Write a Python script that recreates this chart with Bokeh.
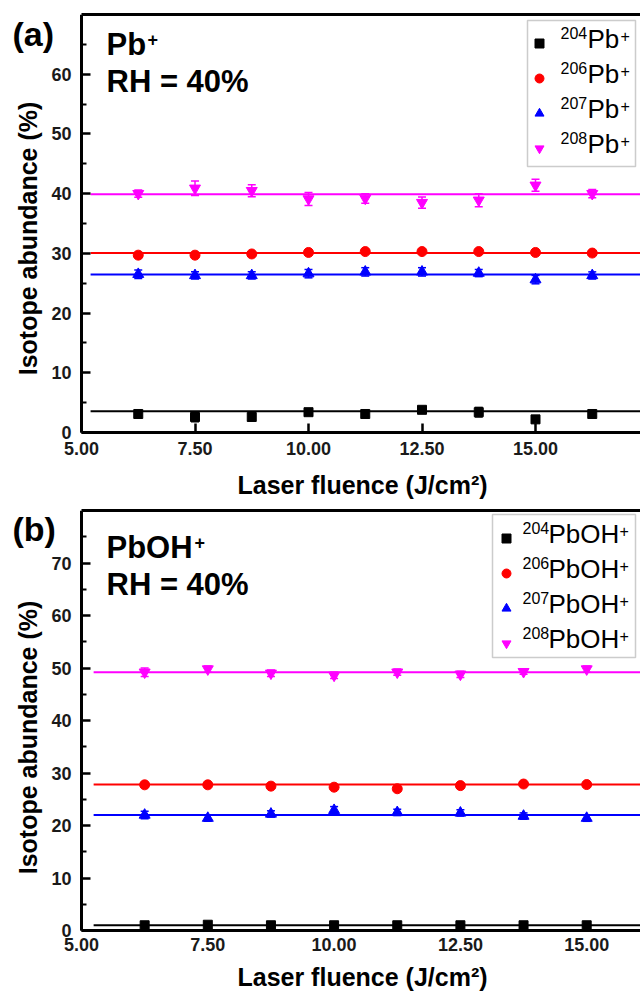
import math
from bokeh.plotting import figure
from bokeh.models import (Range1d, LinearAxis, FixedTicker, Whisker, TeeHead,
                          ColumnDataSource, Label, BoxAnnotation, PrintfTickFormatter)
from bokeh.layouts import column
from bokeh.embed import file_html
from bokeh.resources import INLINE

# ---------------- data ----------------
isotopes = ["204", "206", "207", "208"]
colors = ["#000000", "#ff0000", "#0000ff", "#ff00ff"]
markers = ["square", "circle", "triangle", "inverted_triangle"]
marker_sizes = [9, 10, 11, 11]

# (a) Pb+
x_a = [6.25, 7.5, 8.75, 10.0, 11.25, 12.5, 13.75, 15.0, 16.25]
a204 = [3.1, 2.6, 2.6, 3.4, 3.1, 3.8, 3.4, 2.2, 3.1]
a204_err = [0.3, 0.8, 0.6, 0.4, 0.4, 0.3, 0.8, 0.5, 0.4]
a206 = [29.7, 29.7, 29.9, 30.15, 30.3, 30.3, 30.3, 30.15, 30.05]
a206_err = [0.4, 0.4, 0.3, 0.4, 0.3, 0.3, 0.3, 0.3, 0.3]
a207 = [26.5, 26.3, 26.3, 26.6, 26.9, 26.9, 26.7, 25.6, 26.3]
a207_err = [0.7, 0.6, 0.6, 0.7, 0.7, 0.7, 0.6, 0.7, 0.6]
a208 = [40.0, 40.9, 40.5, 39.1, 39.2, 38.5, 38.9, 41.4, 40.0]
a208_err = [0.6, 1.2, 1.0, 1.1, 0.8, 0.95, 1.1, 1.0, 0.7]
fit_a = [3.55, 30.05, 26.47, 39.9]
fit_x_a = [5.2, 18.0]

# (b) PbOH+
x_b = [6.25, 7.5, 8.75, 10.0, 11.25, 12.5, 13.75, 15.0]
b204 = [1.0, 1.1, 1.0, 1.0, 1.0, 1.0, 1.0, 1.0]
b204_err = [0.3, 0.3, 0.3, 0.3, 0.3, 0.3, 0.3, 0.3]
b206 = [27.75, 27.75, 27.5, 27.3, 27.0, 27.6, 27.9, 27.8]
b206_err = [0.4, 0.3, 0.3, 0.4, 0.4, 0.4, 0.3, 0.3]
b207 = [22.0, 21.4, 22.2, 22.9, 22.5, 22.4, 21.8, 21.4]
b207_err = [0.7, 0.6, 0.6, 0.7, 0.6, 0.6, 0.6, 0.6]
b208 = [49.2, 49.8, 49.0, 48.6, 49.2, 48.8, 49.3, 49.8]
b208_err = [0.8, 0.6, 0.6, 0.6, 0.6, 0.6, 0.5, 0.6]
fit_b = [1.0, 27.8, 22.0, 49.2]
fit_x_b = [5.24, 17.0]

x_ticks = [5.0, 7.5, 10.0, 12.5, 15.0]
y_ticks_a = [0, 10, 20, 30, 40, 50, 60]
y_minor_a = [5, 15, 25, 35, 45, 55, 65]
y_ticks_b = [0, 10, 20, 30, 40, 50, 60, 70]
y_minor_b = [5, 15, 25, 35, 45, 55, 65, 75]

FONT = "Liberation Sans"
W = 640
PAGE_LEFT, PAGE_RIGHT = 0, W
AXIS_X = 81  # page x of the y axis (x = 5.00)
MID = 0.35   # baseline -> middle of text box, in em


def make_panel(canvas_top, height, frame_top, axis_y, px_per_x, y_end,
               y_ticks, y_minor, xs, ys, errs, fits, fit_x, letter, species,
               tp, legend_box, legend_rows, legend_sup_x, legend_main_x,
               legend_plus_x, legend_marker_x, tick_standoff):
    canvas_bottom = canvas_top + height
    px_per_y = (axis_y - frame_top) / y_end
    x_start = 5.0 - (AXIS_X - PAGE_LEFT) / px_per_x
    x_end = 5.0 + (PAGE_RIGHT - AXIS_X) / px_per_x
    y_start = -(canvas_bottom - axis_y) / px_per_y

    p = figure(width=W, height=height, output_backend="svg", toolbar_location=None,
               x_range=Range1d(x_start, x_end), y_range=Range1d(y_start, y_end),
               min_border_left=0, min_border_right=0,
               min_border_top=frame_top - canvas_top, min_border_bottom=0)
    p.outline_line_color = None
    p.xgrid.visible = False
    p.ygrid.visible = False
    p.background_fill_color = "white"
    p.border_fill_color = "white"

    def dx(px):
        return 5.0 + (px - AXIS_X) / px_per_x

    def dy(py):
        return (axis_y - py) / px_per_y

    def text(px, base, s, size, bold=False, align="left"):
        p.add_layout(Label(x=dx(px), y=dy(base - MID * size), text=s,
                           text_font=FONT, text_font_size=f"{size}px",
                           text_font_style="bold" if bold else "normal",
                           text_align=align, text_baseline="middle",
                           text_color="black"))

    # axes drawn at x = 5 and y = 0
    p.xaxis.ticker = FixedTicker(ticks=x_ticks, minor_ticks=[])
    p.xaxis.formatter = PrintfTickFormatter(format="%.2f")
    p.yaxis.ticker = FixedTicker(ticks=y_ticks, minor_ticks=y_minor)
    p.xaxis.fixed_location = 0
    p.yaxis.fixed_location = 5.0
    p.xaxis.bounds = (5.0, x_end)
    p.yaxis.bounds = (0, y_end)
    for ax in (p.xaxis[0], p.yaxis[0]):
        ax.axis_line_width = 3
        ax.axis_line_color = "black"
        ax.major_tick_in = 9
        ax.major_tick_out = 0
        ax.minor_tick_in = 5
        ax.minor_tick_out = 0
        ax.major_tick_line_width = 2.5
        ax.minor_tick_line_width = 2
        ax.major_tick_line_color = "black"
        ax.minor_tick_line_color = "black"
        ax.major_label_text_font = FONT
        ax.major_label_text_font_style = "bold"
        ax.major_label_text_font_size = "18px"
        ax.major_label_text_color = "#1a1a1a"
    p.yaxis.major_label_standoff = 10
    p.xaxis.major_label_standoff = tick_standoff

    top = LinearAxis(ticker=FixedTicker(ticks=[], minor_ticks=[]),
                     axis_line_width=3, axis_line_color="black",
                     major_label_text_font_size="0px", bounds=(5.0, x_end),
                     major_tick_line_color=None, minor_tick_line_color=None)
    p.add_layout(top, "above")

    # fit lines
    for fit, c in zip(fits, colors):
        p.line(fit_x, [fit, fit], line_color=c, line_width=2)

    # data + error bars
    for y, e, c, m, s in zip(ys, errs, colors, markers, marker_sizes):
        src = ColumnDataSource(dict(x=xs, y=y,
                                    lo=[a - b for a, b in zip(y, e)],
                                    hi=[a + b for a, b in zip(y, e)]))
        p.scatter("x", "y", source=src, marker=m, size=s, fill_color=c,
                  line_color=c)
        p.add_layout(Whisker(base="x", lower="lo", upper="hi", source=src,
                             line_color=c, line_width=1.5,
                             upper_head=TeeHead(size=8, line_color=c, line_width=1.5),
                             lower_head=TeeHead(size=8, line_color=c, line_width=1.5)))

    # legend
    bl, br, bt, bb = legend_box
    p.add_layout(BoxAnnotation(left=dx(bl), right=dx(br), top=dy(bt), bottom=dy(bb),
                               fill_alpha=0, line_color="#555555", line_width=1.5))
    for iso, c, m, base in zip(isotopes, colors, markers, legend_rows):
        p.scatter([dx(legend_marker_x)], [dy(base - 5)], marker=m, size=9,
                  fill_color=c, line_color=c)
        text(legend_sup_x, base - 10, iso, 16)
        text(legend_main_x, base, species, 26)
        text(legend_plus_x, base - 7, "+", 16)

    # panel letter and titles
    text(12, tp["letter"], letter, 34, bold=True)
    text(106, tp["species"], species, 31, bold=True)
    text(tp["plus_x"], tp["species"] - 10, "+", 18, bold=True)
    text(106, tp["rh"], "RH = 40%", 31, bold=True)

    # axis titles
    p.add_layout(Label(x=dx(36 - MID * 25), y=dy(tp["ylab_c"]),
                       text="Isotope abundance (%)",
                       angle=math.pi / 2, text_align="center", text_baseline="middle",
                       text_font=FONT, text_font_size="25px", text_font_style="bold",
                       text_color="black"))
    text(362, tp["xlab_base"], "Laser fluence (J/cm\u00b2)", 25, bold=True, align="center")
    return p


pa = make_panel(canvas_top=0, height=504, frame_top=14, axis_y=432,
                px_per_x=113.5 / 2.5, y_end=70, y_ticks=y_ticks_a, y_minor=y_minor_a,
                xs=x_a, ys=[a204, a206, a207, a208],
                errs=[a204_err, a206_err, a207_err, a208_err],
                fits=fit_a, fit_x=fit_x_a, letter="(a)", species="Pb",
                tp=dict(letter=45, species=55, rh=92, plus_x=147, ylab_c=238,
                        xlab_base=493),
                legend_box=(527, 635, 20, 166), legend_rows=[48, 83, 118, 153],
                legend_sup_x=560, legend_main_x=587, legend_plus_x=620,
                legend_marker_x=539, tick_standoff=9)

pb = make_panel(canvas_top=504, height=488, frame_top=510, axis_y=930,
                px_per_x=126.3 / 2.5, y_end=80, y_ticks=y_ticks_b, y_minor=y_minor_b,
                xs=x_b, ys=[b204, b206, b207, b208],
                errs=[b204_err, b206_err, b207_err, b208_err],
                fits=fit_b, fit_x=fit_x_b, letter="(b)", species="PbOH",
                tp=dict(letter=540, species=558, rh=595, plus_x=194, ylab_c=737,
                        xlab_base=985),
                legend_box=(492, 635, 514, 657), legend_rows=[543, 578, 613, 648],
                legend_sup_x=522, legend_main_x=548, legend_plus_x=619,
                legend_marker_x=506, tick_standoff=7)

layout = column(pa, pb, spacing=0)
open("out.html", "w").write(file_html(layout, INLINE))
